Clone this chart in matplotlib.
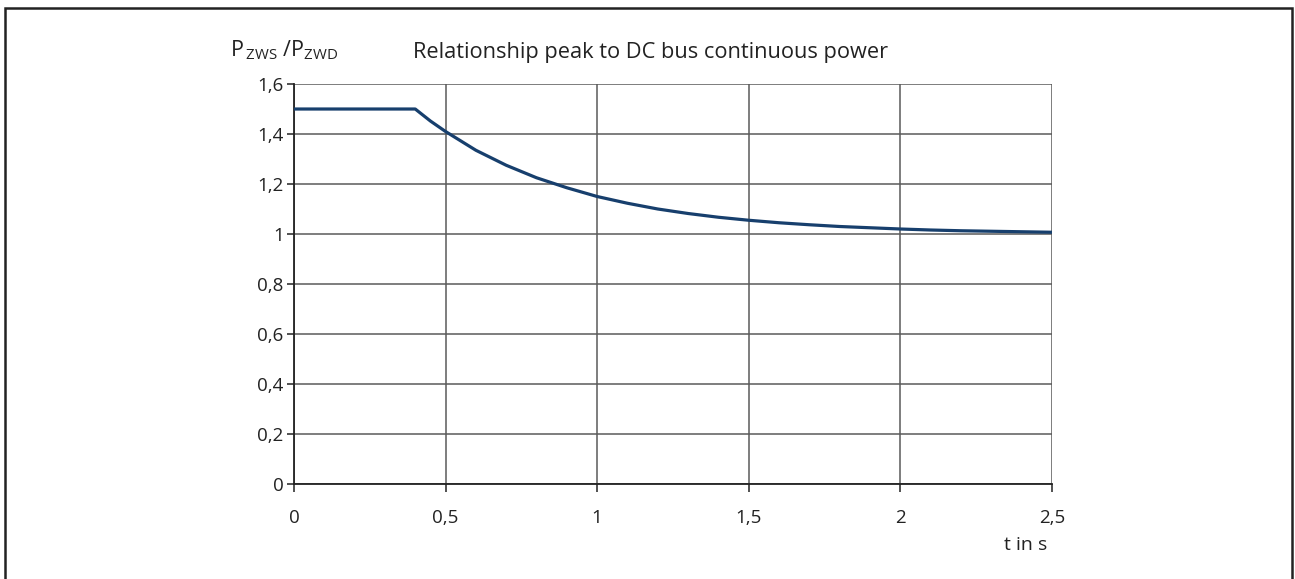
import matplotlib.pyplot as plt
from matplotlib.patches import Rectangle
from matplotlib.ticker import FuncFormatter

# peak / DC bus continuous power ratio over time
t_s = [0.0, 0.4, 0.45, 0.5, 0.6, 0.7, 0.8, 0.9, 1.0, 1.1, 1.2, 1.3, 1.4,
       1.5, 1.6, 1.7, 1.8, 1.9, 2.0, 2.1, 2.2, 2.3, 2.4, 2.5]
ratio = [1.5, 1.5, 1.452, 1.41, 1.335, 1.275, 1.225, 1.185, 1.15, 1.123,
         1.10, 1.082, 1.067, 1.055, 1.045, 1.037, 1.030, 1.025, 1.020,
         1.016, 1.013, 1.011, 1.009, 1.007]

x_ticks = [0, 0.5, 1, 1.5, 2, 2.5]
y_ticks = [0, 0.2, 0.4, 0.6, 0.8, 1, 1.2, 1.4, 1.6]

plt.rcParams['font.family'] = ['Open Sans', 'DejaVu Sans']

fig = plt.figure(figsize=(12.95, 5.79), dpi=100)
ax = fig.add_axes([0.2270, 0.1641, 0.5853, 0.6908])

ax.plot(t_s, ratio, color='#173f6d', linewidth=2.3, zorder=3)

ax.set_xlim(0, 2.5)
ax.set_ylim(0, 1.6)
ax.set_xticks(x_ticks)
ax.set_yticks(y_ticks)

def comma(v, pos):
    return ('%g' % v).replace('.', ',')

ax.xaxis.set_major_formatter(FuncFormatter(comma))
ax.yaxis.set_major_formatter(FuncFormatter(comma))
ax.tick_params(axis='both', labelsize=13.5, colors='#222222', length=6, width=1.1)
ax.tick_params(axis='x', pad=12)
ax.tick_params(axis='y', pad=2.5, length=5)

ax.grid(True, color='#5a5a5a', linewidth=1.1)
ax.set_axisbelow(True)
for side in ['top', 'right']:
    ax.spines[side].set_visible(False)
for side in ['left', 'bottom']:
    ax.spines[side].set_color('#222222')
    ax.spines[side].set_linewidth(1.3)

fig.text(0.1776, 0.9033, r'P$_{\mathregular{\,ZWS}}$ /P$_{\mathregular{ZWD}}$',
         fontsize=15.5, color='#222222', va='baseline', ha='left')
fig.text(0.3189, 0.8998, 'Relationship peak to DC bus continuous power',
         fontsize=15.7, color='#222222', va='baseline', ha='left')
fig.text(0.8085, 0.0497, 't in s', fontsize=14, color='#222222',
         va='baseline', ha='right')

# outer frame
fig.patches.append(Rectangle((0.0035, -0.05), 0.9945, 1.037,
                             transform=fig.transFigure, fill=False,
                             edgecolor='#222222', linewidth=1.8))

fig.savefig('out.png', dpi=100)
